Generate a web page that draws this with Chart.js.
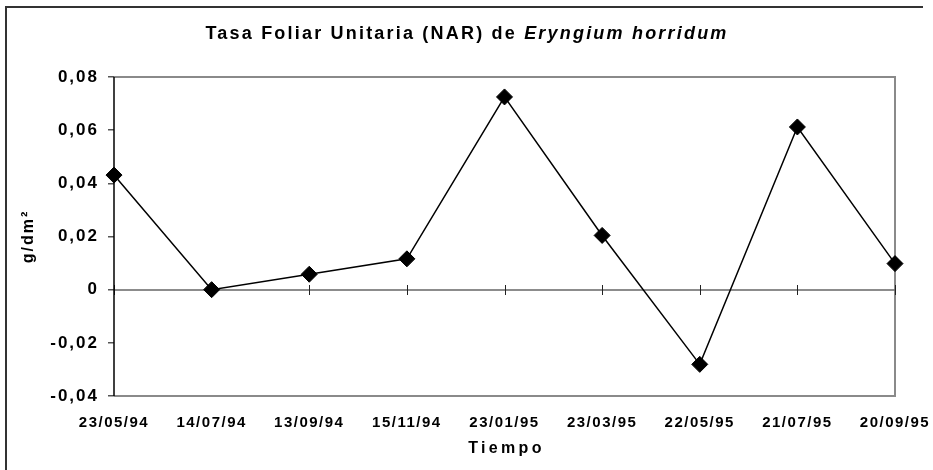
<!DOCTYPE html>
<html>
<head>
<meta charset="utf-8">
<script src="https://cdn.jsdelivr.net/npm/chart.js@4.4.1/dist/chart.umd.min.js"></script>
<style>
  html, body { margin: 0; padding: 0; background: #fff; }
  #wrap { width: 933px; height: 470px; position: relative; }
</style>
</head>
<body>
<div id="wrap"><canvas id="c" width="933" height="470"></canvas></div>
<script>
// ---- data ----
const categories = ['23/05/94', '14/07/94', '13/09/94', '15/11/94', '23/01/95', '23/03/95', '22/05/95', '21/07/95', '20/09/95'];
const narValues = [0.0431, 0.0000, 0.0058, 0.0116, 0.0725, 0.0204, -0.0281, 0.0612, 0.0098];
const yTickValues = [-0.04, -0.02, 0, 0.02, 0.04, 0.06, 0.08];
const titlePlain = 'Tasa Foliar Unitaria (NAR) de ';
const titleItalic = 'Eryngium horridum';
const yTitle = 'g/dm²';
const xTitle = 'Tiempo';

const FONT = '"Liberation Sans", Arial, sans-serif';
const X_SPACING = '1.5px';
const Y_SPACING = '2px';

const spacingPlugin = {
  id: 'spacing',
  beforeLayout(chart) { chart.ctx.letterSpacing = X_SPACING; },
  afterLayout(chart) {
    const ys = chart.scales.y;
    if (!ys._patched) {
      const orig = ys.drawLabels;
      ys.drawLabels = function (area) {
        const ctx = this.ctx;
        const prev = ctx.letterSpacing;
        ctx.letterSpacing = Y_SPACING;
        orig.call(this, area);
        ctx.letterSpacing = prev;
      };
      ys._patched = true;
    }
  },
  beforeDraw(chart) { chart.ctx.letterSpacing = X_SPACING; }
};

const framePlugin = {
  id: 'frame',
  beforeDraw(chart) {
    const ctx = chart.ctx;
    ctx.save();
    ctx.fillStyle = '#fff';
    ctx.fillRect(0, 0, chart.width, chart.height);
    // outer chart border (top and left)
    ctx.strokeStyle = '#333';
    ctx.lineWidth = 2;
    ctx.beginPath();
    ctx.moveTo(6, chart.height + 2);
    ctx.lineTo(6, 7);
    ctx.lineTo(923, 7);
    ctx.stroke();
    ctx.restore();
  },
  beforeDatasetsDraw(chart) {
    const ctx = chart.ctx;
    const a = chart.chartArea;
    const xs = chart.scales.x, ys = chart.scales.y;
    ctx.save();
    // plot frame (top, right, bottom) in gray
    ctx.strokeStyle = '#8a8a8a';
    ctx.lineWidth = 2;
    ctx.beginPath();
    ctx.moveTo(a.left, a.top);
    ctx.lineTo(a.right, a.top);
    ctx.lineTo(a.right, a.bottom);
    ctx.lineTo(a.left, a.bottom);
    ctx.stroke();
    // zero line
    const y0 = Math.round(ys.getPixelForValue(0));
    ctx.strokeStyle = '#666';
    ctx.lineWidth = 1.5;
    ctx.beginPath();
    ctx.moveTo(a.left, y0);
    ctx.lineTo(a.right, y0);
    ctx.stroke();
    // category tick marks crossing the zero line
    ctx.strokeStyle = '#222';
    ctx.lineWidth = 1;
    for (let i = 0; i < xs.ticks.length; i++) {
      const x = Math.round(xs.getPixelForTick(i)) + 0.5;
      ctx.beginPath();
      ctx.moveTo(x, y0 - 5);
      ctx.lineTo(x, y0 + 5);
      ctx.stroke();
    }
    // left axis line
    ctx.strokeStyle = '#000';
    ctx.lineWidth = 1.5;
    ctx.beginPath();
    ctx.moveTo(a.left, a.top);
    ctx.lineTo(a.left, a.bottom);
    ctx.stroke();
    ctx.restore();
  },
  afterDraw(chart) {
    const ctx = chart.ctx;
    const a = chart.chartArea;
    ctx.save();
    ctx.fillStyle = '#000';
    ctx.textBaseline = 'middle';
    // main title (mixed style)
    ctx.letterSpacing = '2.2px';
    const f1 = 'bold 18px ' + FONT;
    const f2 = 'italic bold 18px ' + FONT;
    ctx.font = f1; const w1 = ctx.measureText(titlePlain).width;
    ctx.font = f2; const w2 = ctx.measureText(titleItalic).width;
    let x = 467 - (w1 + w2) / 2;
    ctx.textAlign = 'left';
    ctx.font = f1; ctx.fillText(titlePlain, x, 34);
    ctx.font = f2; ctx.fillText(titleItalic, x + w1, 34);
    // x title
    ctx.letterSpacing = '3.3px';
    ctx.font = 'bold 16px ' + FONT;
    ctx.textAlign = 'center';
    ctx.fillText(xTitle, (a.left + a.right) / 2 + 2, 449);
    // y title
    ctx.letterSpacing = '2px';
    ctx.translate(29, (a.top + a.bottom) / 2);
    ctx.rotate(-Math.PI / 2);
    ctx.fillText(yTitle, 0, 0);
    ctx.restore();
  }
};

new Chart(document.getElementById('c'), {
  type: 'line',
  data: {
    labels: categories,
    datasets: [{
      data: narValues,
      borderColor: '#000',
      borderWidth: 1.5,
      backgroundColor: '#000',
      pointStyle: 'rectRot',
      pointRadius: 8,
      pointBorderWidth: 1,
      pointBackgroundColor: '#000',
      pointBorderColor: '#000',
      tension: 0
    }]
  },
  options: {
    responsive: false,
    animation: false,
    devicePixelRatio: 1,
    layout: { padding: { top: 77, right: 38, bottom: 0, left: 0 } },
    plugins: { legend: { display: false }, title: { display: false }, tooltip: { enabled: false } },
    scales: {
      x: {
        type: 'category',
        offset: false,
        grid: { display: false, drawTicks: false },
        border: { display: false },
        ticks: {
          color: '#000',
          font: { family: FONT, size: 15, weight: 'bold' },
          padding: 18,
          maxRotation: 0,
          autoSkip: false
        },
        afterFit(scale) { scale.height = 74; scale.paddingLeft = 0; scale.paddingRight = 0; }
      },
      y: {
        min: -0.04,
        max: 0.08,
        afterBuildTicks(scale) { scale.ticks = yTickValues.map(v => ({ value: v })); },
        grid: { drawOnChartArea: false, drawTicks: true, tickLength: 6, tickColor: '#555', lineWidth: 1.5 },
        border: { display: false },
        ticks: {
          color: '#000',
          font: { family: FONT, size: 17, weight: 'bold' },
          padding: 9,
          callback: v => (v === 0 ? '0' : v.toFixed(2).replace('.', ','))
        },
        afterFit(scale) { scale.width = 114; scale.paddingTop = 0; scale.paddingBottom = 0; }
      }
    }
  },
  plugins: [spacingPlugin, framePlugin]
});
</script>
</body>
</html>
